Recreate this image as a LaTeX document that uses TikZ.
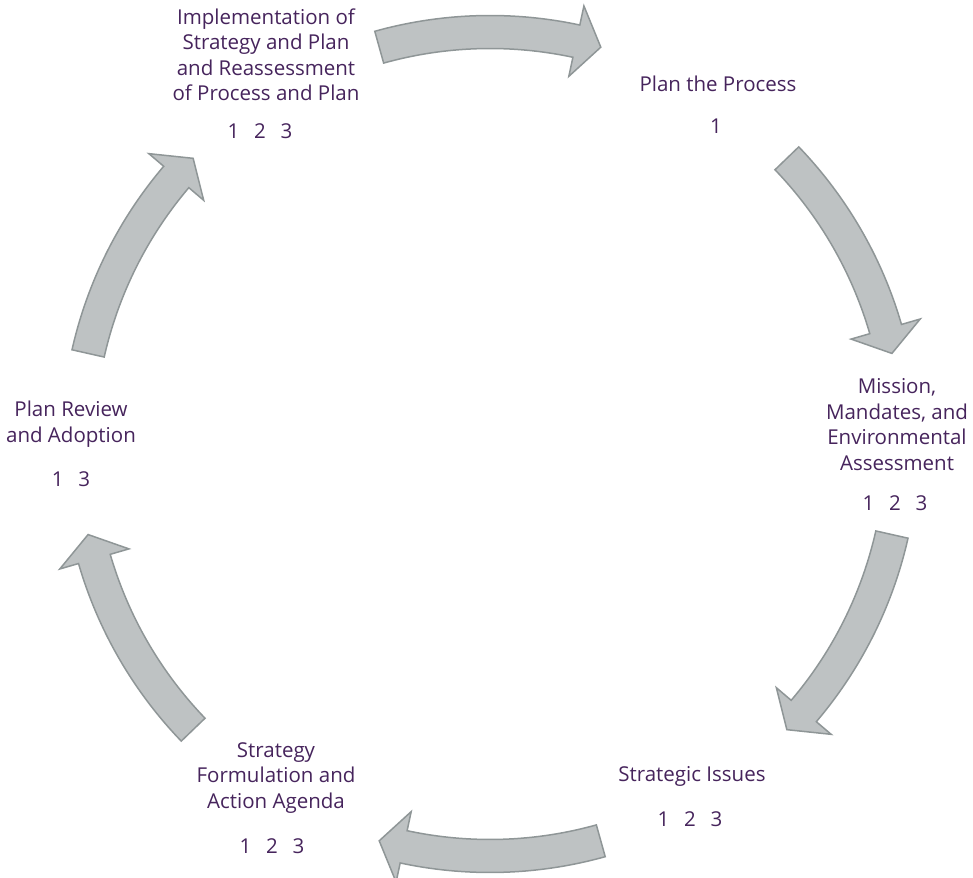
\documentclass[tikz,border=0pt]{standalone}
\usepackage{fontspec}
\setmainfont{Open Sans}
\definecolor{txt}{RGB}{70,36,92}
\definecolor{arrfill}{RGB}{190,194,195}
\definecolor{arrline}{RGB}{143,150,151}
\newcommand{\gp}{\hspace{0.72em}}
\begin{document}
\begin{tikzpicture}[x=1pt,y=1pt,
  lbl/.style={text=txt,font=\fontsize{20.5}{25.5}\selectfont,align=center,inner sep=0pt},
  cyclearrow/.style={fill=arrfill,draw=arrline,line width=1.5pt,line join=miter}]
\useasboundingbox (0,0) rectangle (973,877);
\coordinate (C) at (490,433);
\foreach \t in {90,28.3,-28.3,-90,208.3,151.7}{
  \pgfmathsetmacro\aa{\t+15.6}
  \pgfmathsetmacro\ab{\t-15.6+3.5}
  \pgfmathsetmacro\ac{\t-15.6}
  \draw[cyclearrow,shift={(C)}] (\aa:428.5) arc[start angle=\aa, end angle=\ab, radius=428.5]
     -- (\ab:448) -- (\ac:412) -- (\ab:376) -- (\ab:395.5)
     arc[start angle=\ab, end angle=\aa, radius=395.5] -- cycle;
}
\node[lbl] (impl) at (266,822) {Implementation of\\Strategy and Plan\\and Reassessment\\of Process and Plan};
\node[lbl] (implN) at (260,746) {1\gp 2\gp 3};
\node[lbl] (plan) at (718,793) {Plan the Process};
\node[lbl] (planN) at (716,751) {1};
\node[lbl] (mission) at (897,452.5) {Mission,\\Mandates, and\\Environmental\\Assessment};
\node[lbl] (missionN) at (895,374) {1\gp 2\gp 3};
\node[lbl] (issues) at (692,101) {Strategic Issues};
\node[lbl] (issuesN) at (690,58) {1\gp 2\gp 3};
\node[lbl] (strat) at (276,99) {Strategy\\Formulation and\\Action Agenda};
\node[lbl] (stratN) at (272,31) {1\gp 2\gp 3};
\node[lbl] (review) at (71,453) {Plan Review\\and Adoption};
\node[lbl] (reviewN) at (71,398) {1\gp 3};
\end{tikzpicture}
\end{document}
